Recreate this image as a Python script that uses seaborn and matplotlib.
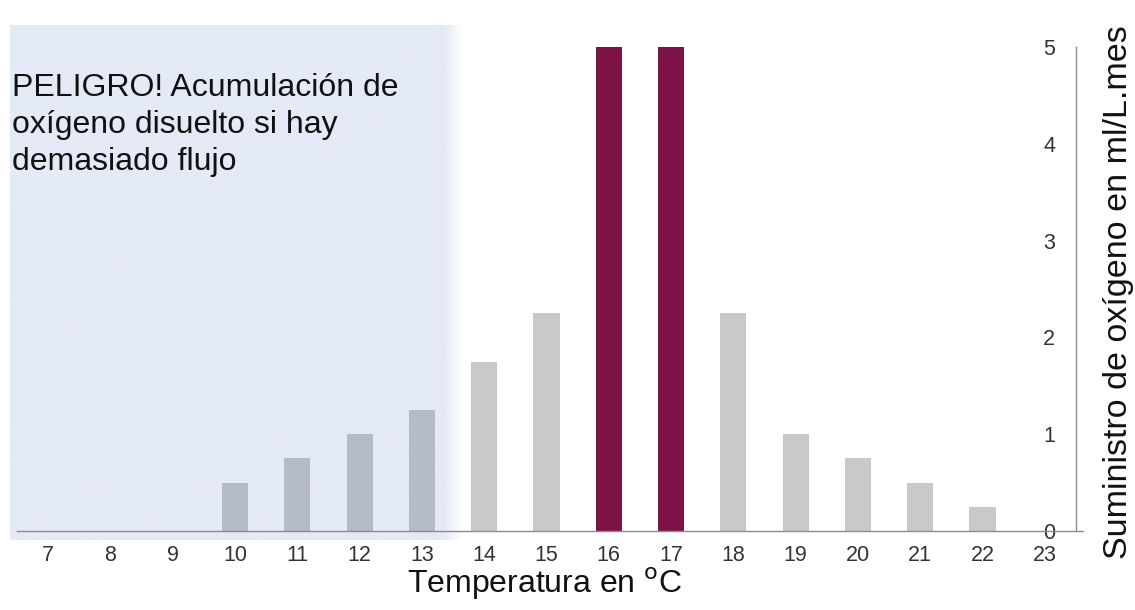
import numpy as np
import pandas as pd
import matplotlib
matplotlib.use("Agg")
import matplotlib.pyplot as plt
import seaborn as sns

# datos
temperaturas = [7, 8, 9, 10, 11, 12, 13, 14, 15, 16, 17, 18, 19, 20, 21, 22, 23]
suministro = [0, 0, 0, 0.5, 0.75, 1.0, 1.25, 1.75, 2.25, 5, 5, 2.25, 1.0, 0.75, 0.5, 0.25, 0]
zona = ["peligro"] * 7 + ["normal"] * 2 + ["optimo"] * 2 + ["normal"] * 6
y_ticks = [0, 1, 2, 3, 4, 5]

texto_peligro = "PELIGRO! Acumulación de\noxígeno disuelto si hay\ndemasiado flujo"
etiqueta_x = "Temperatura en $^{\\rm o}$C"
etiqueta_y = "Suministro de oxígeno en ml/L.mes"

colores = {"peligro": "#b5bbc7", "normal": "#c9c9c9", "optimo": "#7d1246"}

sns.set_style("white")
plt.rcParams["font.family"] = ["Liberation Sans", "DejaVu Sans"]

df = pd.DataFrame({"temp": [str(t) for t in temperaturas], "valor": suministro, "zona": zona})

fig = plt.figure(figsize=(11.35, 6.10), dpi=100)
W, H = 1135, 610
ax = fig.add_axes([10 / W, 1 - 540 / H, (1083 - 10) / W, (540 - 25) / H])

px = 62.3
x0 = -0.5 - 7 / px
x1 = 16.5 + 7 / px
py = 96.8
y0 = -9 / py
y1 = 5 + 22 / py

# zona sombreada con borde difuso
n = 400
xs = np.linspace(x0, 6.7, n)
alpha = np.clip((6.66 - xs) / 0.3, 0, 1)
img = np.zeros((1, n, 4))
img[..., 0] = 0xe4 / 255
img[..., 1] = 0xea / 255
img[..., 2] = 0xf6 / 255
img[..., 3] = alpha
ax.imshow(img, extent=[x0, 6.7, y0, y1], aspect="auto", zorder=0, interpolation="bilinear")

sns.barplot(data=df, x="temp", y="valor", hue="zona", palette=colores, width=0.42,
            legend=False, ax=ax, zorder=2, saturation=1, linewidth=0)

ax.set_xlim(x0, x1)
ax.set_ylim(y0, y1)

for s in ["top", "right"]:
    ax.spines[s].set_visible(False)
ax.spines["bottom"].set_position(("data", 0))
ax.spines["left"].set_position(("data", 16.5))
ax.spines["left"].set_bounds(0, 5)
ax.spines["bottom"].set_bounds(-0.5, 16.5 + 7 / px)
for s in ["left", "bottom"]:
    ax.spines[s].set_color("#8c8c8c")
    ax.spines[s].set_linewidth(1.0)

ax.set_xticks(range(len(temperaturas)))
ax.set_xticklabels([str(t) for t in temperaturas])
ax.set_xticks(np.arange(-0.5, 17, 1), minor=True)
ax.tick_params(axis="x", which="major", length=0, pad=10, labelsize=15.5, labelcolor="#333333")
ax.tick_params(axis="x", which="minor", length=6, color="#8c8c8c", direction="out")
ax.set_yticks(y_ticks)
ax.tick_params(axis="y", which="major", length=12, direction="inout", color="#8c8c8c",
               labelsize=15.5, labelcolor="#333333", pad=9)
ax.set_xlabel("")
ax.set_ylabel("")

ax.text(12 / W, 1 - 73 / H, texto_peligro, transform=fig.transFigure, fontsize=23,
        va="top", ha="left", color="#111111", linespacing=1.3)
fig.text(545 / W, 1 - 584 / H, etiqueta_x, fontsize=23, ha="center", va="center", color="#111111")
fig.text(1119 / W, 1 - 292 / H, etiqueta_y, fontsize=24.5, rotation=90, ha="center", va="center",
         color="#111111")

fig.savefig("out.png", dpi=100)
